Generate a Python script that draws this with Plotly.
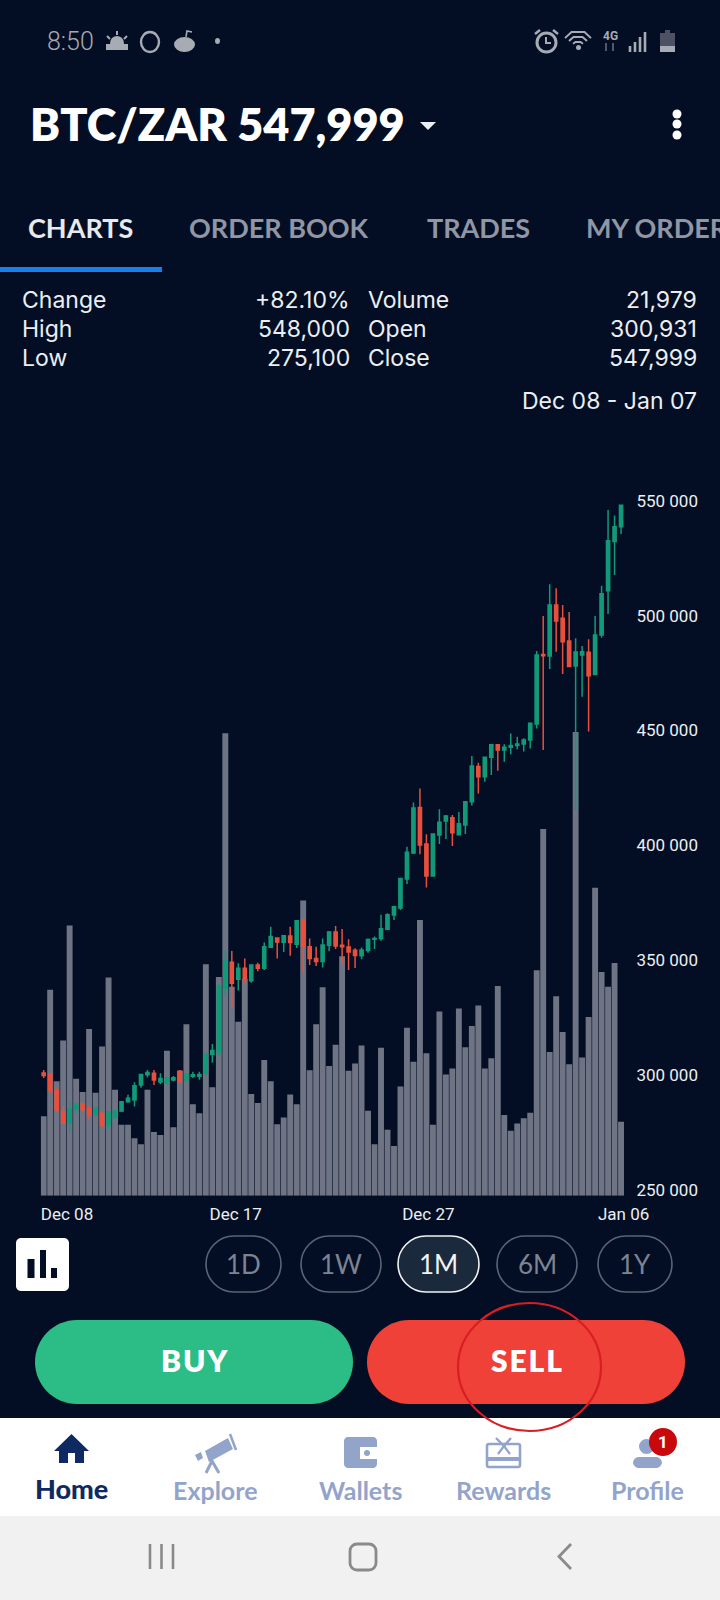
import plotly.graph_objects as go

# ---------- data ----------
tick_labels = ["Dec 08", "Dec 17", "Dec 27", "Jan 06"]
tick_slots = [3.6, 29.6, 59.3, 89.4]
price_ticks = [250000, 300000, 350000, 400000, 450000, 500000, 550000]

opens = [300931,300500,293500,284100,279000,285100,287400,285500,282700,283400,
         278700,281600,284400,288400,289200,295700,300200,300800,297000,296400,
         297900,301700,297900,299500,299500,300800,309000,310200,337800,349100,
         341700,346500,341100,347900,346500,355600,359700,357800,360500,356900,
         367500,355900,350800,349400,356500,362300,356500,355800,354300,351900,
         354200,359100,359500,363500,369700,372700,385400,396700,416500,400600,
         386700,404500,410600,412000,404600,408900,419000,434300,429900,438300,
         443800,441500,442700,443500,444100,445800,452800,483100,482400,504600,
         498800,488900,478100,482800,484000,474300,491500,510800,532200,538700]
highs = [302200,300800,294300,286300,288500,287700,288000,286600,286300,284100,
         284400,284800,288600,291400,296900,300600,302200,302200,300800,299300,
         299600,302200,300800,301500,301500,309500,313500,339700,354500,354000,
         348700,350800,348200,348900,357700,364600,359700,361000,364600,367200,
         367500,359500,355900,359500,362700,364900,363600,359100,355200,355500,
         359500,360300,369800,370400,373700,385800,399400,418600,424700,404800,
         405200,415700,413200,413200,414500,419000,438900,436000,438600,444000,
         444000,444000,448700,447300,446600,453100,484600,499800,513600,511900,
         504600,501600,490100,486800,489700,499800,513000,546000,543500,548000]
lows = [298700,292100,284100,278700,275100,283400,284100,280800,282200,277300,
        276400,281000,283800,288000,286300,294500,299000,295700,296100,296000,
        297200,296400,297200,298700,298000,299600,305400,308300,334100,329400,
        336800,340000,340200,345200,345800,355300,350700,353600,352000,355300,
        344600,347900,347500,346800,353900,354900,348600,345700,346600,350400,
        353300,354900,358500,363200,367500,371900,383200,396200,396100,381600,
        386400,400600,402800,399700,404500,404900,417300,422600,427700,430600,
        432500,436400,439600,441800,440800,442200,450900,441500,476800,484300,
        474600,477700,415400,464700,449500,474200,490400,500700,517700,535500]
closes = [299800,293500,284800,279000,285100,287400,285100,282700,285800,278300,
          284100,284500,288400,289900,295400,300300,301100,297900,298500,299000,
          298800,297200,300300,300200,300300,309200,310700,338900,350100,340000,
          346500,342100,347900,346500,355900,360300,357900,360700,357700,367200,
          356200,350700,349400,356600,362300,356200,355900,353600,352100,354500,
          359000,359500,363700,369800,373300,385600,397000,416300,400100,386700,
          404900,410000,412800,405500,409400,419000,434500,429900,438300,443800,
          441500,442700,443500,444100,445800,453100,482800,482500,504600,497600,
          488600,477800,484100,484300,473800,491500,509500,532600,538700,547999]
volumes = [131,340,189,256,446,193,171,275,170,246,
           360,175,117,117,95,85,175,105,100,239,
           113,206,283,151,136,382,179,361,763,345,
           287,358,168,153,224,189,118,129,167,151,
           487,207,283,344,214,249,395,206,218,248,
           140,85,244,109,82,180,277,221,455,235,
           117,304,200,210,309,245,280,314,210,227,
           346,133,107,119,128,137,372,605,237,329,
           270,217,765,228,295,508,369,345,384,122]
slots = list(range(len(volumes)))

stat_rows = [("Change", "+82.10%", "Volume", "21,979"),
             ("High", "548,000", "Open", "300,931"),
             ("Low", "275,100", "Close", "547,999")]
periods = ["1D", "1W", "1M", "6M", "1Y"]
nav_items = ["Home", "Explore", "Wallets", "Rewards", "Profile"]
tabs = ["CHARTS", "ORDER BOOK", "TRADES", "MY ORDER"]

# ---------- style ----------
BG = "#030e24"
BAR = "#6f7485"
GREEN = "#129a78"
RED = "#e8503c"
W, H = 720, 1600
NAVL = "#93a4cb"
NAVD = "#0f2a63"
HEAD = "Lato"
NUM = "Roboto"
STAT = "Inter"


def fx(x):
    return x / W


def fy(y):
    return 1 - y / H


shapes = []
notes = []


def rect(x0, y0, x1, y1, fill):
    shapes.append(dict(type="rect", xref="paper", yref="paper", x0=fx(x0), x1=fx(x1),
                       y0=fy(y1), y1=fy(y0), fillcolor=fill, line=dict(width=0)))


def ell(x0, y0, x1, y1, fill="rgba(0,0,0,0)", line=None, lw=0):
    shapes.append(dict(type="circle", xref="paper", yref="paper", x0=fx(x0), x1=fx(x1),
                       y0=fy(y1), y1=fy(y0), fillcolor=fill,
                       line=dict(width=lw, color=line or fill)))


def poly(pts, fill="rgba(0,0,0,0)", line=None, lw=0, close=True):
    p = "M" + " L".join(f"{fx(a):.5f},{fy(b):.5f}" for a, b in pts) + (" Z" if close else "")
    shapes.append(dict(type="path", xref="paper", yref="paper", path=p, fillcolor=fill,
                       line=dict(width=lw, color=line or fill)))


def rrect(x0, y0, x1, y1, r, fill="rgba(0,0,0,0)", line=None, lw=0):
    k = 0.55 * r

    def P(a, b):
        return f"{fx(a):.5f},{fy(b):.5f}"
    p = (f"M{P(x0 + r, y0)} L{P(x1 - r, y0)} C{P(x1 - r + k, y0)} {P(x1, y0 + r - k)} {P(x1, y0 + r)} "
         f"L{P(x1, y1 - r)} C{P(x1, y1 - r + k)} {P(x1 - r + k, y1)} {P(x1 - r, y1)} "
         f"L{P(x0 + r, y1)} C{P(x0 + r - k, y1)} {P(x0, y1 - r + k)} {P(x0, y1 - r)} "
         f"L{P(x0, y0 + r)} C{P(x0, y0 + r - k)} {P(x0 + r - k, y0)} {P(x0 + r, y0)} Z")
    shapes.append(dict(type="path", xref="paper", yref="paper", path=p, fillcolor=fill,
                       line=dict(width=lw, color=line or fill)))


def text(x, y, s, size, color="#eceef1", anchor="left", family=HEAD, weight=400):
    notes.append(dict(xref="paper", yref="paper", x=fx(x), y=fy(y), text=s, showarrow=False,
                      xanchor=anchor, yanchor="middle", borderpad=0,
                      font=dict(size=size, color=color, family=family, weight=weight)))


# ---------- status bar ----------
SB = "#a6abb4"
text(46, 42, "8:50", 25, SB, family=NUM, weight=300)
ell(110, 36, 124, 50, SB)
rect(106, 44, 128, 50, SB)
for a, b, c, d in [(117, 31, 117, 35), (107, 36, 110, 39), (127, 36, 124, 39)]:
    poly([(a, b), (c, d)], line=SB, lw=2, close=False)
ell(141, 32, 159, 52, line=SB, lw=2.4)
ell(174, 37, 195, 52, SB)
poly([(186, 37), (187, 31), (192, 32)], line=SB, lw=1.6, close=False)
ell(215, 38, 220, 44, SB)
ell(537, 33, 556, 52, line=SB, lw=3)
poly([(546, 37), (546, 43), (551, 43)], line=SB, lw=2, close=False)
poly([(535, 34), (540, 30)], line=SB, lw=2.5, close=False)
poly([(553, 30), (558, 34)], line=SB, lw=2.5, close=False)
for r, top in [(13, 31), (9, 36), (5, 41)]:
    poly([(578 - r, top + r * 0.55), (578 - r * 0.5, top + 1), (578 + r * 0.5, top + 1),
          (578 + r, top + r * 0.55)], line=SB, lw=2, close=False)
ell(576, 45, 581, 50, SB)
text(610, 36, "4G", 12, SB, "center", NUM, 700)
poly([(606, 51), (606, 43)], line="#6d7380", lw=1.5, close=False)
poly([(613, 43), (613, 51)], line="#6d7380", lw=1.5, close=False)
for x, top in [(630, 46), (635, 42), (640, 37), (645, 32)]:
    rect(x - 1.3, top, x + 1.3, 52, SB)
rect(660, 33, 675, 52, "#4c5263")
rect(665, 30, 670, 33, "#4c5263")
rect(660, 46, 675, 52, SB)

# ---------- header ----------
text(29, 124, "BTC/ZAR 547,999", 45, "#ffffff", weight=800)
poly([(420, 122), (436, 122), (428, 130)], "#eceef1")
for cy in (114, 124, 135):
    ell(672.5, cy - 4.5, 681.5, cy + 4.5, "#ffffff")

# ---------- tabs ----------
for label, x, col in zip(tabs, (27, 188, 426, 585), ("#e8e9ec", "#9096a4", "#9096a4", "#9096a4")):
    text(x, 227.5, label, 27, col, weight=700)
rect(0, 267, 162, 272, "#1780e6")

# ---------- stats ----------
for (a, b, c, d), y in zip(stat_rows, (299.7, 329, 358.3)):
    text(21, y, a, 23, family=STAT)
    text(351, y, b, 23, anchor="right", family=STAT)
    text(367, y, c, 23, family=STAT)
    text(698, y, d, 23, anchor="right", family=STAT)
text(698, 401, "Dec 08 - Jan 07", 23, anchor="right", family=STAT)

# ---------- lower controls ----------
rrect(16, 1238, 69, 1291, 5, "#ffffff")
for x0, x1, top in [(27.5, 34.5, 1259), (40, 46, 1250), (51, 57, 1268)]:
    rect(x0, top, x1, 1278, BG)
for label, (x0, x1) in zip(periods, [(206, 281), (301, 381), (398, 479), (497, 577), (598, 672)]):
    on = label == "1M"
    rrect(x0, 1236, x1, 1292, 28, "#1b293d" if on else "rgba(0,0,0,0)",
          "#f1f3f5" if on else "#5d6373", 1.6)
    text((x0 + x1) / 2, 1264, label, 26, "#f1f3f5" if on else "#7d8391", "center")
rrect(35, 1320, 353, 1404, 42, "#2cbd86")
rrect(367, 1320, 685, 1404, 42, "#ef4137")
text(194, 1360, "B\u200aU\u200aY", 30, "#ffffff", "center", weight=800)
text(526, 1360, "S\u200aE\u200aL\u200aL", 30, "#ffffff", "center", weight=800)

# ---------- navigation ----------
rect(0, 1418, 720, 1516, "#ffffff")
rect(0, 1516, 720, 1600, "#f1f1f1")
ell(458, 1303, 601, 1431, line="#d81e24", lw=2.2)
for label, x, y, col, wt, sz in zip(nav_items, (71, 215, 360, 503, 647), (1488.5, 1490, 1490, 1490, 1490),
                                    (NAVD, NAVL, NAVL, NAVL, NAVL), (900, 700, 700, 700, 700),
                                    (27, 25, 25, 25, 25)):
    text(x, y, label, sz, col, "center", weight=wt)
poly([(71.5, 1434), (89, 1451), (84, 1451), (84, 1463), (75, 1463), (75, 1453), (68, 1453),
      (68, 1463), (59, 1463), (59, 1451), (54, 1451)], NAVD)
poly([(205, 1451), (228, 1438), (233, 1449), (209, 1462)], NAVL)
poly([(195, 1455), (201, 1452), (203, 1458), (198, 1461)], NAVL)
poly([(230, 1434), (236, 1450)], line=NAVL, lw=2.5, close=False)
poly([(206, 1473), (212, 1461), (219, 1473)], line=NAVL, lw=3, close=False)
rrect(344, 1437, 377, 1468, 4, NAVL)
rect(360, 1447, 377, 1459, "#ffffff")
ell(364, 1450, 370, 1456, NAVL)
rrect(487, 1444, 520, 1467, 2, "#ffffff", NAVL, 2.6)
rect(487, 1457, 520, 1461, NAVL)
poly([(496, 1438), (504, 1446), (511, 1438)], line=NAVL, lw=2.4, close=False)
poly([(504, 1446), (498, 1454)], line=NAVL, lw=2.2, close=False)
poly([(504, 1446), (510, 1454)], line=NAVL, lw=2.2, close=False)
ell(639, 1439, 654, 1454, NAVL)
rrect(633, 1457, 662, 1468, 6, NAVL)
ell(649, 1428, 677, 1456, "#c8080c")
text(663, 1442, "1", 17, "#ffffff", "center", NUM, 700)
NB = "#8a8a8a"
for x in (150, 161.5, 173):
    rect(x - 1.3, 1544, x + 1.3, 1569, NB)
rrect(350, 1544, 376, 1570, 7, line=NB, lw=2.8)
poly([(571, 1544), (559, 1556.5), (571, 1569)], line=NB, lw=2.8, close=False)

# ---------- chart ----------
fig = go.Figure()
fig.add_trace(go.Bar(x=slots, y=volumes, marker=dict(color=BAR, line=dict(width=0)),
                     xaxis="x", yaxis="y", showlegend=False, hoverinfo="skip"))
fig.add_trace(go.Candlestick(x=slots, open=opens, high=highs, low=lows, close=closes,
                             xaxis="x", yaxis="y2", whiskerwidth=0, showlegend=False,
                             increasing=dict(line=dict(color=GREEN, width=1.5), fillcolor=GREEN),
                             decreasing=dict(line=dict(color=RED, width=1.5), fillcolor=RED)))

fig.update_layout(
    width=W, height=H, autosize=False,
    margin=dict(l=0, r=0, t=0, b=0, pad=0, autoexpand=False),
    paper_bgcolor=BG, plot_bgcolor=BG,
    separators=". ",
    bargap=0.09,
    showlegend=False,
    shapes=shapes,
    annotations=notes,
    font=dict(family=NUM, color="#eceef1"),
    xaxis=dict(domain=[40.7 / W, 630 / W], range=[-0.46, 90.38], rangeslider=dict(visible=False),
               showgrid=False, zeroline=False, showline=False, fixedrange=True,
               tickmode="array", tickvals=tick_slots, ticktext=tick_labels,
               ticks="outside", ticklen=3, tickcolor="rgba(0,0,0,0)",
               tickfont=dict(family=NUM, size=17, color="#eceef1")),
    yaxis=dict(domain=[(H - 1195.7) / H, (H - 440) / H], range=[0, 1247], visible=False,
               showgrid=False, zeroline=False, fixedrange=True),
    yaxis2=dict(domain=[(H - 1195.7) / H, (H - 440) / H], range=[247519, 576412],
                overlaying="y", side="right", anchor="x", showgrid=False, zeroline=False,
                showline=False, fixedrange=True, tickmode="array", tickvals=price_ticks,
                tickformat=",d", ticks="outside", ticklen=2, tickcolor="rgba(0,0,0,0)",
                tickfont=dict(family=NUM, size=17, color="#eceef1")),
)

fig.write_html("out.html", config=dict(displayModeBar=False, responsive=False),
               default_width="720px", default_height="1600px",
               post_script="document.documentElement.style.overflow='hidden';document.body.style.overflow='hidden';"
                           "document.body.style.margin='0';document.body.style.background='%s';" % BG)
